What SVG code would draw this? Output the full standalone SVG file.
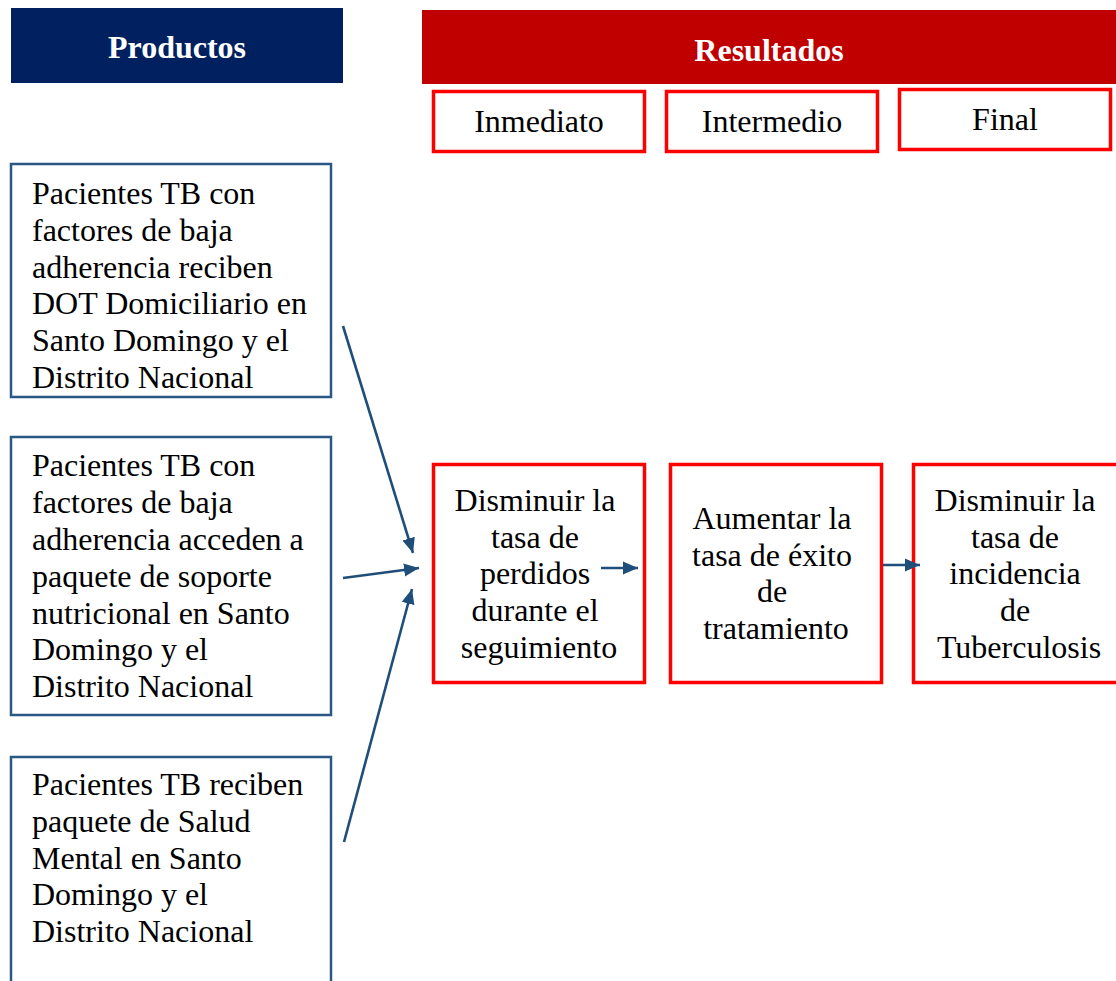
<svg xmlns="http://www.w3.org/2000/svg" width="1116" height="981" viewBox="0 0 1116 981">
  <style>
    .hdr { font-family: "Liberation Serif", "Times New Roman", serif; font-size: 32px; font-weight: bold; fill: #ffffff; text-anchor: middle; }
    .lvl { font-family: "Liberation Serif", "Times New Roman", serif; font-size: 32px; fill: #000000; text-anchor: middle; }
    .txt { font-family: "Liberation Serif", "Times New Roman", serif; font-size: 32px; fill: #000000; }
    .ctr { text-anchor: middle; }
    .prod { fill: #ffffff; stroke: #2A5783; stroke-width: 2.5; }
    .res { fill: #ffffff; stroke: #FF0000; stroke-width: 3.5; }
    .conn { stroke: #1F4E79; stroke-width: 2.6; fill: none; marker-end: url(#arrow); }
  </style>
  <defs>
    <marker id="arrow" markerUnits="userSpaceOnUse" markerWidth="16" markerHeight="14" refX="15" refY="7" orient="auto">
      <path d="M0,0.5 L15,7 L0,13.5 z" fill="#1F4E79"/>
    </marker>
  </defs>

  <rect width="1116" height="981" fill="#ffffff"/>

  <!-- column headers -->
  <g id="hdr-productos">
    <rect x="11" y="8" width="332" height="75" fill="#002060"/>
    <text class="hdr" x="177" y="58">Productos</text>
  </g>
  <g id="hdr-resultados">
    <rect x="422" y="10" width="694" height="74" fill="#C00000"/>
    <text class="hdr" x="769" y="61">Resultados</text>
  </g>

  <!-- result levels -->
  <g id="lvl-inmediato">
    <rect class="res" x="433.5" y="91.5" width="211" height="60"/>
    <text class="lvl" x="539" y="132">Inmediato</text>
  </g>
  <g id="lvl-intermedio">
    <rect class="res" x="666.5" y="91.5" width="211" height="60"/>
    <text class="lvl" x="772" y="132">Intermedio</text>
  </g>
  <g id="lvl-final">
    <rect class="res" x="899.5" y="89.5" width="211" height="60"/>
    <text class="lvl" x="1005" y="130">Final</text>
  </g>

  <!-- products -->
  <g id="prod-dot">
    <rect class="prod" x="11" y="164" width="320" height="233"/>
    <text class="txt" x="32">
      <tspan x="32" y="204">Pacientes TB con</tspan>
      <tspan x="32" y="241">factores de baja</tspan>
      <tspan x="32" y="278">adherencia reciben</tspan>
      <tspan x="32" y="314">DOT Domiciliario en</tspan>
      <tspan x="32" y="351">Santo Domingo y el</tspan>
      <tspan x="32" y="388">Distrito Nacional</tspan>
    </text>
  </g>
  <g id="prod-nutricion">
    <rect class="prod" x="11" y="437" width="320" height="278"/>
    <text class="txt" x="32">
      <tspan x="32" y="476">Pacientes TB con</tspan>
      <tspan x="32" y="513">factores de baja</tspan>
      <tspan x="32" y="550">adherencia acceden a</tspan>
      <tspan x="32" y="587">paquete de soporte</tspan>
      <tspan x="32" y="624">nutricional en Santo</tspan>
      <tspan x="32" y="660">Domingo y el</tspan>
      <tspan x="32" y="697">Distrito Nacional</tspan>
    </text>
  </g>
  <g id="prod-salud-mental">
    <rect class="prod" x="11" y="757" width="320" height="240"/>
    <text class="txt" x="32">
      <tspan x="32" y="795">Pacientes TB reciben</tspan>
      <tspan x="32" y="832">paquete de Salud</tspan>
      <tspan x="32" y="869">Mental en Santo</tspan>
      <tspan x="32" y="905">Domingo y el</tspan>
      <tspan x="32" y="942">Distrito Nacional</tspan>
    </text>
  </g>

  <!-- outcomes -->
  <g id="res-perdidos">
    <rect class="res" x="433.5" y="464.5" width="211" height="218"/>
    <text class="txt ctr">
      <tspan x="539" y="511">Disminuir la</tspan>
      <tspan x="539" y="548">tasa de</tspan>
      <tspan x="539" y="584">perdidos</tspan>
      <tspan x="539" y="621">durante el</tspan>
      <tspan x="539" y="658">seguimiento</tspan>
    </text>
  </g>
  <g id="res-exito">
    <rect class="res" x="670.5" y="464.5" width="211" height="218"/>
    <text class="txt ctr">
      <tspan x="776" y="529">Aumentar la</tspan>
      <tspan x="776" y="566">tasa de éxito</tspan>
      <tspan x="776" y="602">de</tspan>
      <tspan x="776" y="639">tratamiento</tspan>
    </text>
  </g>
  <g id="res-incidencia">
    <rect class="res" x="913.5" y="464.5" width="211" height="218"/>
    <text class="txt ctr">
      <tspan x="1019" y="511">Disminuir la</tspan>
      <tspan x="1019" y="548">tasa de</tspan>
      <tspan x="1019" y="584">incidencia</tspan>
      <tspan x="1019" y="621">de</tspan>
      <tspan x="1019" y="658">Tuberculosis</tspan>
    </text>
  </g>

  <!-- connectors -->
  <g id="connectors">
    <line class="conn" x1="343" y1="326" x2="413" y2="553"/>
    <line class="conn" x1="343" y1="578" x2="419" y2="568"/>
    <line class="conn" x1="344" y1="842" x2="412" y2="589"/>
    <line class="conn" x1="601" y1="568" x2="638" y2="568"/>
    <line class="conn" x1="883" y1="565" x2="920" y2="565"/>
  </g>
</svg>
